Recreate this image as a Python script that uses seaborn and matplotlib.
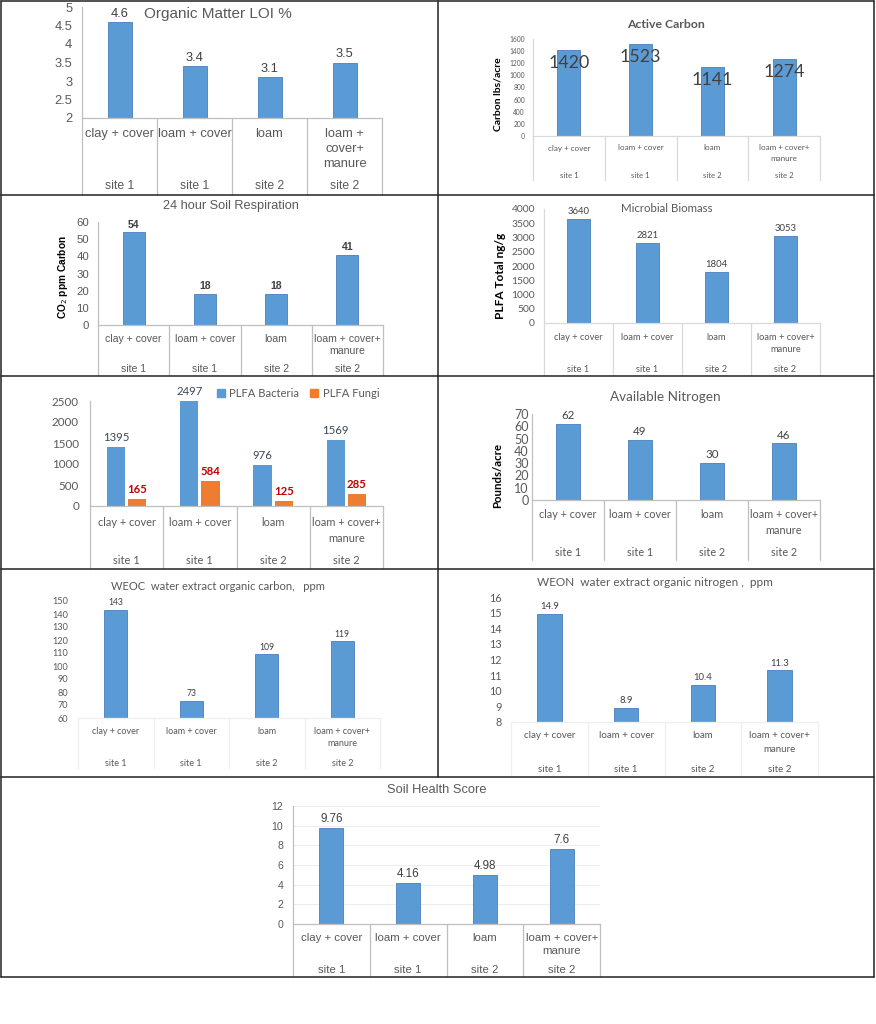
import textwrap
import numpy as np
import pandas as pd
import matplotlib
matplotlib.use("Agg")
import matplotlib.pyplot as plt
import seaborn as sns
from matplotlib.lines import Line2D
from matplotlib.ticker import FuncFormatter
from matplotlib.transforms import blended_transform_factory

# ---------------- data ----------------
categories = ["clay + cover", "loam + cover", "loam", "loam + cover+ manure"]
sites = ["site 1", "site 1", "site 2", "site 2"]

organic_matter = [4.6, 3.4, 3.1, 3.5]
active_carbon = [1420, 1523, 1141, 1274]
respiration = [54, 18, 18, 41]
microbial_biomass = [3640, 2821, 1804, 3053]
plfa_bacteria = [1395, 2497, 976, 1569]
plfa_fungi = [165, 584, 125, 285]
available_nitrogen = [62, 49, 30, 46]
weoc = [143, 73, 109, 119]
weon = [14.9, 8.9, 10.4, 11.3]
soil_health = [9.76, 4.16, 4.98, 7.6]

series_names = ["PLFA Bacteria", "PLFA Fungi"]

# ---------------- style ----------------
W, H = 876, 1024
ARIAL = ["Liberation Sans", "DejaVu Sans"]
CALIBRI = ["Lato", "DejaVu Sans"]
BLUE = "#5B9BD5"
EDGE = "#4A7EBB"
ORANGE = "#ED7D31"
GRAY_TXT = "#595959"
VAL_TXT = "#404040"

sns.set_theme(style="white")
plt.rcParams["font.family"] = ARIAL
fig = plt.figure(figsize=(W / 100, H / 100), dpi=100)
fig.patch.set_facecolor("white")


def fy(py):
    return 1 - py / H


def fx(px):
    return px / W


def add_ax(l, r, t, b):
    return fig.add_axes([l / W, 1 - b / H, (r - l) / W, (b - t) / H])


def setup(ax, ymin, ymax, step, font, fs, pad, spine_color, spine_left=True):
    ax.set_xlim(-0.5, 3.5)
    ax.set_ylim(ymin, ymax)
    ax.set_yticks(np.arange(ymin, ymax + step / 2, step))
    ax.yaxis.set_major_formatter(FuncFormatter(lambda v, p: f"{v:g}"))
    ax.tick_params(axis="y", length=0, pad=pad, labelsize=fs, labelcolor=GRAY_TXT)
    for lab in ax.get_yticklabels():
        lab.set_fontfamily(font)
    ax.set_xticks([])
    ax.set_xlabel("")
    ax.set_ylabel("")
    for s in ["top", "right"]:
        ax.spines[s].set_visible(False)
    ax.spines["left"].set_visible(spine_left)
    ax.spines["left"].set_color(spine_color)
    ax.spines["bottom"].set_color(spine_color)
    ax.spines["left"].set_linewidth(0.9)
    ax.spines["bottom"].set_linewidth(0.9)
    ax.set_facecolor("none")


def cat_axis(ax, bottom_px, font, fs, label_y, line_dy, site_y, sep_bottom,
             sep_color, narrow=False, site_fs=None):
    tr = blended_transform_factory(ax.transData, fig.transFigure)
    for i, (lab, site) in enumerate(zip(categories, sites)):
        wrapped = textwrap.fill(lab, 7) if (narrow and len(lab) > 12) else textwrap.fill(lab, 14)
        for k, line in enumerate(wrapped.split("\n")):
            ax.text(i, fy(label_y + k * line_dy), line, transform=tr, ha="center",
                    va="center", fontsize=fs, family=font, color=GRAY_TXT, clip_on=False)
        ax.text(i, fy(site_y), site, transform=tr, ha="center", va="center",
                fontsize=site_fs or fs, family=font, color=GRAY_TXT, clip_on=False)
    for b in np.arange(-0.5, 4.0, 1.0):
        ax.add_line(Line2D([b, b], [fy(bottom_px), fy(sep_bottom)], transform=tr,
                           color=sep_color, lw=0.9, clip_on=False))


def values_on(ax, container, labels, font, fs, color=VAL_TXT, weight="normal", offset=2.0, va="bottom"):
    for bar, lab in zip(container, labels):
        x = bar.get_x() + bar.get_width() / 2
        y = bar.get_y() + bar.get_height()
        ax.annotate(lab, (x, y), xytext=(0, offset), textcoords="offset points",
                    ha="center", va=va, fontsize=fs, family=font, color=color,
                    fontweight=weight, annotation_clip=False)


def title(x, y, text, font, fs, weight="normal"):
    fig.text(fx(x), fy(y), text, ha="center", va="center", fontsize=fs,
             family=font, color=GRAY_TXT, fontweight=weight)


def ylabel(x, y, text, font, fs):
    fig.text(fx(x), fy(y), text, ha="center", va="center", rotation=90,
             fontsize=fs, family=font, color="black", fontweight="bold")


def single_bars(ax, vals, width=0.32):
    sns.barplot(x=categories, y=vals, color=BLUE, saturation=1, width=width,
                edgecolor=EDGE, linewidth=0.6, ax=ax)
    return ax.containers[0]


# ---------------- Panel 1: Organic Matter ----------------
ax = add_ax(82, 382, 7, 118)
c = single_bars(ax, organic_matter, 0.32)
setup(ax, 2, 5, 0.5, ARIAL, 9.3, 7, "#BFBFBF")
values_on(ax, c, [f"{v:g}" for v in organic_matter], ARIAL, 9.3, offset=1.5)
cat_axis(ax, 118, ARIAL, 9.3, 134, 15, 186, 195, "#BFBFBF", narrow=True, site_fs=8.8)
title(218, 14, "Organic Matter LOI %", ARIAL, 11)

# ---------------- Panel 2: Active Carbon ----------------
ax = add_ax(533, 820, 39, 136)
c = single_bars(ax, active_carbon, 0.32)
setup(ax, 0, 1600, 200, CALIBRI, 4.8, 5.8, "#D9D9D9")
values_on(ax, c, [f"{v:g}" for v in active_carbon], CALIBRI, 12.8, offset=-4, va="top")
cat_axis(ax, 136, CALIBRI, 5.8, 148, 10.7, 175, 180, "#D9D9D9", site_fs=5.6)
title(666, 24, "Active Carbon", CALIBRI, 8.8, "bold")
ylabel(498, 94, "Carbon lbs/acre", CALIBRI, 7.5)

# ---------------- Panel 3: Soil Respiration ----------------
ax = add_ax(98, 383, 222, 325)
c = single_bars(ax, respiration, 0.31)
setup(ax, 0, 60, 10, ARIAL, 8.2, 6.5, "#BFBFBF")
values_on(ax, c, [f"{v:g}" for v in respiration], ARIAL, 7.6, weight="bold", offset=2)
cat_axis(ax, 325, ARIAL, 7.6, 339, 12, 369, 375, "#BFBFBF")
title(231, 206, "24 hour Soil Respiration", ARIAL, 9.2)
ylabel(63, 277, "CO$_2$ ppm Carbon", ARIAL, 7.3)

# ---------------- Panel 4: Microbial Biomass ----------------
ax = add_ax(544, 820, 209, 323)
c = single_bars(ax, microbial_biomass, 0.33)
setup(ax, 0, 4000, 500, CALIBRI, 7.4, 6.5, "#D9D9D9")
values_on(ax, c, [f"{v:g}" for v in microbial_biomass], CALIBRI, 6.8, offset=2)
cat_axis(ax, 323, CALIBRI, 6.7, 337, 13, 370, 375, "#D9D9D9")
title(667, 208, "Microbial Biomass", CALIBRI, 8.3)
ylabel(501, 276, "PLFA Total ng/g", CALIBRI, 8.6)

# ---------------- Panel 5: PLFA Bacteria / Fungi ----------------
ax = add_ax(90, 383, 401, 506)
df = pd.DataFrame({
    "cat": categories * 2,
    "val": plfa_bacteria + plfa_fungi,
    "series": [series_names[0]] * 4 + [series_names[1]] * 4,
})
sns.barplot(data=df, x="cat", y="val", hue="series", palette=[BLUE, ORANGE],
            saturation=1, width=0.58, gap=0.15, edgecolor="none", ax=ax)
setup(ax, 0, 2500, 500, CALIBRI, 8.4, 8, "#BFBFBF")
values_on(ax, ax.containers[0], [f"{v:g}" for v in plfa_bacteria], CALIBRI, 8.2,
          color="#3B4656", offset=3)
values_on(ax, ax.containers[1], [f"{v:g}" for v in plfa_fungi], CALIBRI, 8.2,
          color="#C00000", weight="bold", offset=3)
handles = [plt.Rectangle((0, 0), 1, 1, color=BLUE), plt.Rectangle((0, 0), 1, 1, color=ORANGE)]
leg = ax.legend(handles, series_names, loc="center", bbox_to_anchor=(0.71, 1.075),
                ncol=2, frameon=False, handlelength=0.7, handleheight=0.7,
                handletextpad=0.4, columnspacing=1.0, prop={"family": CALIBRI, "size": 8.1})
for t in leg.get_texts():
    t.set_color(GRAY_TXT)
cat_axis(ax, 506, CALIBRI, 7.9, 522, 16, 561, 568, "#BFBFBF")

# ---------------- Panel 6: Available Nitrogen ----------------
ax = add_ax(532, 820, 414, 500)
c = single_bars(ax, available_nitrogen, 0.32)
setup(ax, 0, 70, 10, CALIBRI, 9.0, 2.5, "#BFBFBF")
values_on(ax, c, [f"{v:g}" for v in available_nitrogen], CALIBRI, 8.3, offset=2)
cat_axis(ax, 500, CALIBRI, 7.8, 515, 15, 553, 560, "#BFBFBF")
title(665, 397, "Available Nitrogen", CALIBRI, 9.7)
ylabel(498, 476, "Pounds/acre", CALIBRI, 8.2)

# ---------------- Panel 7: WEOC ----------------
ax = add_ax(78, 380, 601, 718)
c = single_bars(ax, weoc, 0.31)
setup(ax, 60, 150, 10, CALIBRI, 6.6, 7, "#EFEFEF", spine_left=False)
values_on(ax, c, [f"{v:g}" for v in weoc], CALIBRI, 6.2, offset=2)
cat_axis(ax, 718, CALIBRI, 6.5, 732, 12, 764, 768, "#EFEFEF")
title(218, 586, "WEOC  water extract organic carbon,   ppm", CALIBRI, 8.0)

# ---------------- Panel 8: WEON ----------------
ax = add_ax(511, 818, 597, 722)
c = single_bars(ax, weon, 0.32)
setup(ax, 8, 16, 1, CALIBRI, 7.8, 7, "#EFEFEF", spine_left=False)
values_on(ax, c, [f"{v:g}" for v in weon], CALIBRI, 6.8, offset=2)
cat_axis(ax, 722, CALIBRI, 7.0, 736, 14, 769, 776, "#EFEFEF")
title(655, 582, "WEON  water extract organic nitrogen ,  ppm", CALIBRI, 8.5)

# ---------------- Panel 9: Soil Health Score ----------------
ax = add_ax(293, 600, 806, 924)
ax.set_axisbelow(True)
c = single_bars(ax, soil_health, 0.31)
setup(ax, 0, 12, 2, ARIAL, 7.6, 7, "#BFBFBF")
ax.yaxis.grid(True, color="#EDEDED", lw=0.8)
values_on(ax, c, [f"{v:g}" for v in soil_health], ARIAL, 8.4, offset=2)
cat_axis(ax, 924, ARIAL, 8.2, 938, 12.5, 970, 976, "#BFBFBF")
title(437, 790, "Soil Health Score", ARIAL, 9.3)

# ---------------- table borders ----------------
def fline(x0, y0, x1, y1):
    fig.add_artist(Line2D([fx(x0), fx(x1)], [fy(y0), fy(y1)], color="#222222", lw=1.1))

for yy in [1, 195, 376, 569, 777, 977]:
    fline(1, yy, 874, yy)
fline(1, 1, 1, 977)
fline(874, 1, 874, 977)
fline(438, 1, 438, 777)

fig.savefig("out.png", dpi=100, facecolor="white")
